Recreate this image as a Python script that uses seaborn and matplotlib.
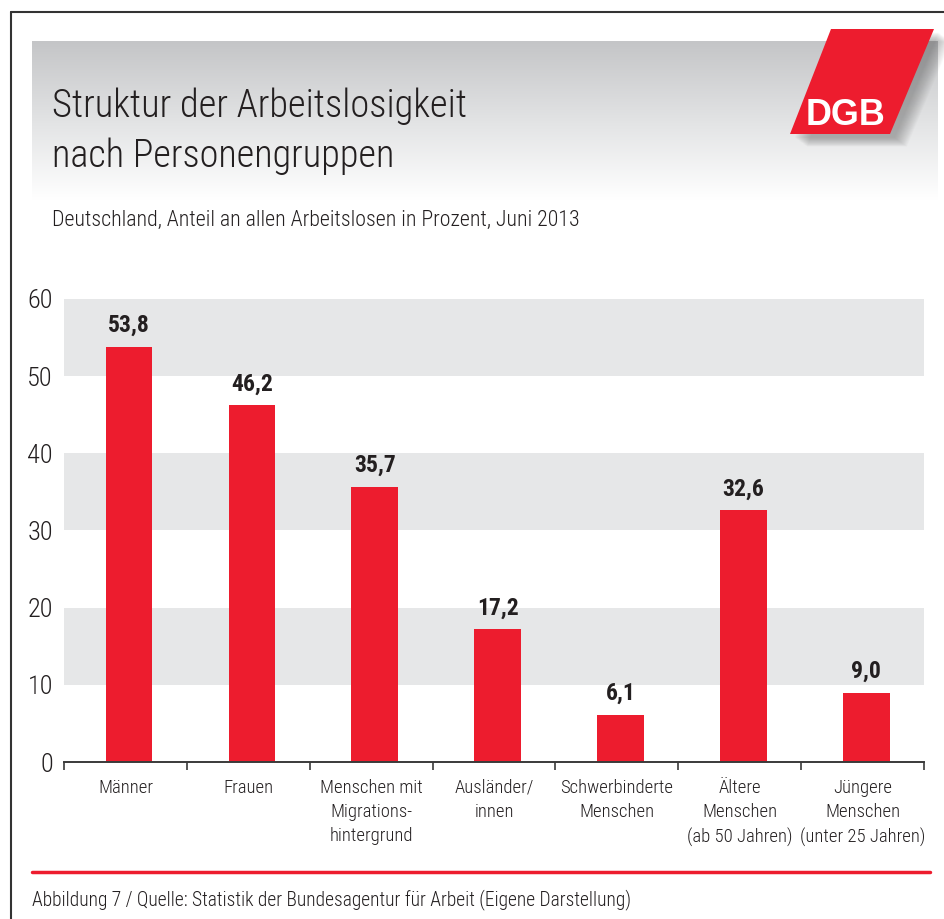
# Struktur der Arbeitslosigkeit nach Personengruppen (DGB chart)
import numpy as np
import pandas as pd
import seaborn as sns
import matplotlib.pyplot as plt
from matplotlib import font_manager
from matplotlib.patches import Polygon
from matplotlib.lines import Line2D
from matplotlib.colors import LinearSegmentedColormap

# data
categories = ["Männer", "Frauen", "Menschen mit\nMigrations-\nhintergrund", "Ausländer/\ninnen",
              "Schwerbinderte\nMenschen", "Ältere\nMenschen\n(ab 50 Jahren)",
              "Jüngere\nMenschen\n(unter 25 Jahren)"]
values = [53.8, 46.2, 35.7, 17.2, 6.1, 32.6, 9.0]
value_labels = ["53,8", "46,2", "35,7", "17,2", "6,1", "32,6", "9,0"]
y_ticks = [0, 10, 20, 30, 40, 50, 60]
bands = [(10, 20), (30, 40), (50, 60)]

title_lines = ["Struktur der Arbeitslosigkeit", "nach Personengruppen"]
subtitle = "Deutschland, Anteil an allen Arbeitslosen in Prozent, Juni 2013"
footer = "Abbildung 7 / Quelle: Statistik der Bundesagentur für Arbeit (Eigene Darstellung)"

RED = "#ed1c2e"
TXT = "#231f20"
BAND = "#e6e7e8"

W, H = 944, 919


def fx(px):
    return px / W


def fy(py):
    return 1 - py / H


# pick a narrow font if one is installed
installed = {(f.name, f.stretch) for f in font_manager.fontManager.ttflist}
names = {n for n, s in installed}
family = 'DejaVu Sans'
stretch = 'normal'
for cand in ['Roboto Condensed', 'Liberation Sans Narrow', 'Open Sans Condensed']:
    if cand in names:
        family = cand
        break
else:
    if ('DejaVu Sans', 'condensed') in installed or ('DejaVu Sans', 'semi-condensed') in installed:
        stretch = 'condensed'

sns.set_theme(style="white")
plt.rcParams['font.family'] = [family, 'DejaVu Sans']
plt.rcParams['font.stretch'] = stretch
plt.rcParams['font.weight'] = 'light'

fig = plt.figure(figsize=(W / 100, H / 100), dpi=100)
renderer = fig.canvas.get_renderer()


def fit_width(t, target_px):
    # scale a text to the width it has in the reference
    w = t.get_window_extent(renderer).width
    t.set_fontsize(t.get_fontsize() * target_px / w)


# header with grey gradient
hdr = fig.add_axes([fx(32), fy(200), fx(937 - 32), (200 - 41) / H])
grad = np.linspace(0, 1, 256).reshape(-1, 1)
cmap = LinearSegmentedColormap.from_list('hdr', ['#c4c5c7', '#e2e3e4', '#ffffff'])
hdr.imshow(grad, aspect='auto', cmap=cmap, extent=[0, 1, 0, 1])
hdr.axis('off')

# frame lines
fig.add_artist(Line2D([fx(11), fx(944)], [fy(12), fy(12)], color='#333333', lw=1.5))
fig.add_artist(Line2D([fx(11), fx(11)], [fy(12), fy(919)], color='#333333', lw=1.5))

# DGB logo with soft shadow
logo_px = [(831, 29), (934, 29), (890, 134), (790, 134)]
for k in range(16, 0, -1):
    pts = [(fx(x + 4 + k * 0.8), fy(y + 3 + k * 0.6)) for x, y in logo_px]
    fig.add_artist(Polygon(pts, closed=True, transform=fig.transFigure,
                           facecolor='#555555', edgecolor='none', alpha=0.03))
fig.add_artist(Polygon([(fx(x), fy(y)) for x, y in logo_px], closed=True,
                       transform=fig.transFigure, facecolor=RED, edgecolor='none'))
dgb = fig.text(fx(845), fy(125), "DGB", color='white', fontsize=29, fontweight='bold',
               ha='center', va='baseline', family=['Liberation Sans', 'DejaVu Sans'], stretch='normal')
fit_width(dgb, 80)

# titles
for line, base, wpx in zip(title_lines, [117, 167], [415, 342]):
    t = fig.text(fx(52), fy(base), line, fontsize=30, color=TXT, va='baseline')
    fit_width(t, wpx)
st = fig.text(fx(52), fy(226), subtitle, fontsize=15, color=TXT, va='baseline')
fit_width(st, 528)

# chart
ax = fig.add_axes([fx(64), fy(762), fx(924 - 64), (762 - 299) / H])
for lo, hi in bands:
    ax.axhspan(lo, hi, color=BAND, zorder=0, lw=0)

df = pd.DataFrame({'Gruppe': categories, 'Anteil': values})
sns.barplot(data=df, x='Gruppe', y='Anteil', color=RED, saturation=1, width=0.38,
            linewidth=0, ax=ax, zorder=2)
# in the original the bars sit a touch right of the slot centre
shift = 0.03
for p in ax.patches:
    if p.get_zorder() == 2:
        p.set_x(p.get_x() + shift)

for i, (v, lab) in enumerate(zip(values, value_labels)):
    ax.annotate(lab, (i + shift, v), xytext=(0, 7), textcoords='offset points', ha='center',
                va='bottom', fontsize=17, fontweight='bold', color=TXT)

ax.set_xlim(-0.5, len(categories) - 0.5)
ax.set_ylim(0, 60)
ax.set_yticks(y_ticks)
ax.set_yticklabels([str(t) for t in y_ticks])
ax.set_xlabel('')
ax.set_ylabel('')
ax.set_facecolor('none')
for s in ['left', 'top', 'right']:
    ax.spines[s].set_visible(False)
ax.spines['bottom'].set_color('#3a3a3a')
ax.spines['bottom'].set_linewidth(1.4)
ax.set_xticks(np.arange(len(categories) + 1) - 0.5, minor=True)
ax.tick_params(axis='x', which='major', length=0, pad=12, labelsize=15, labelcolor=TXT)
ax.tick_params(axis='x', which='minor', bottom=True, length=6, width=1.2, color='#3a3a3a', direction='out')
ax.tick_params(axis='y', length=0, pad=8, labelsize=19, labelcolor=TXT)

# category labels as wide as in the reference
xlabels = ax.get_xticklabels()
widest = max(t.get_window_extent(renderer).width for t in xlabels)
xsize = 15 * 125 / widest
for t in xlabels:
    t.set_fontsize(xsize)
    t.set_linespacing(1.45)
    t.set_ha('center')

# footer
fig.add_artist(Line2D([fx(32), fx(930)], [fy(872), fy(872)], color=RED, lw=2.5))
ft = fig.text(fx(32), fy(905), footer, fontsize=14, color=TXT, va='baseline')
fit_width(ft, 603)

fig.savefig('out.png', dpi=100)
